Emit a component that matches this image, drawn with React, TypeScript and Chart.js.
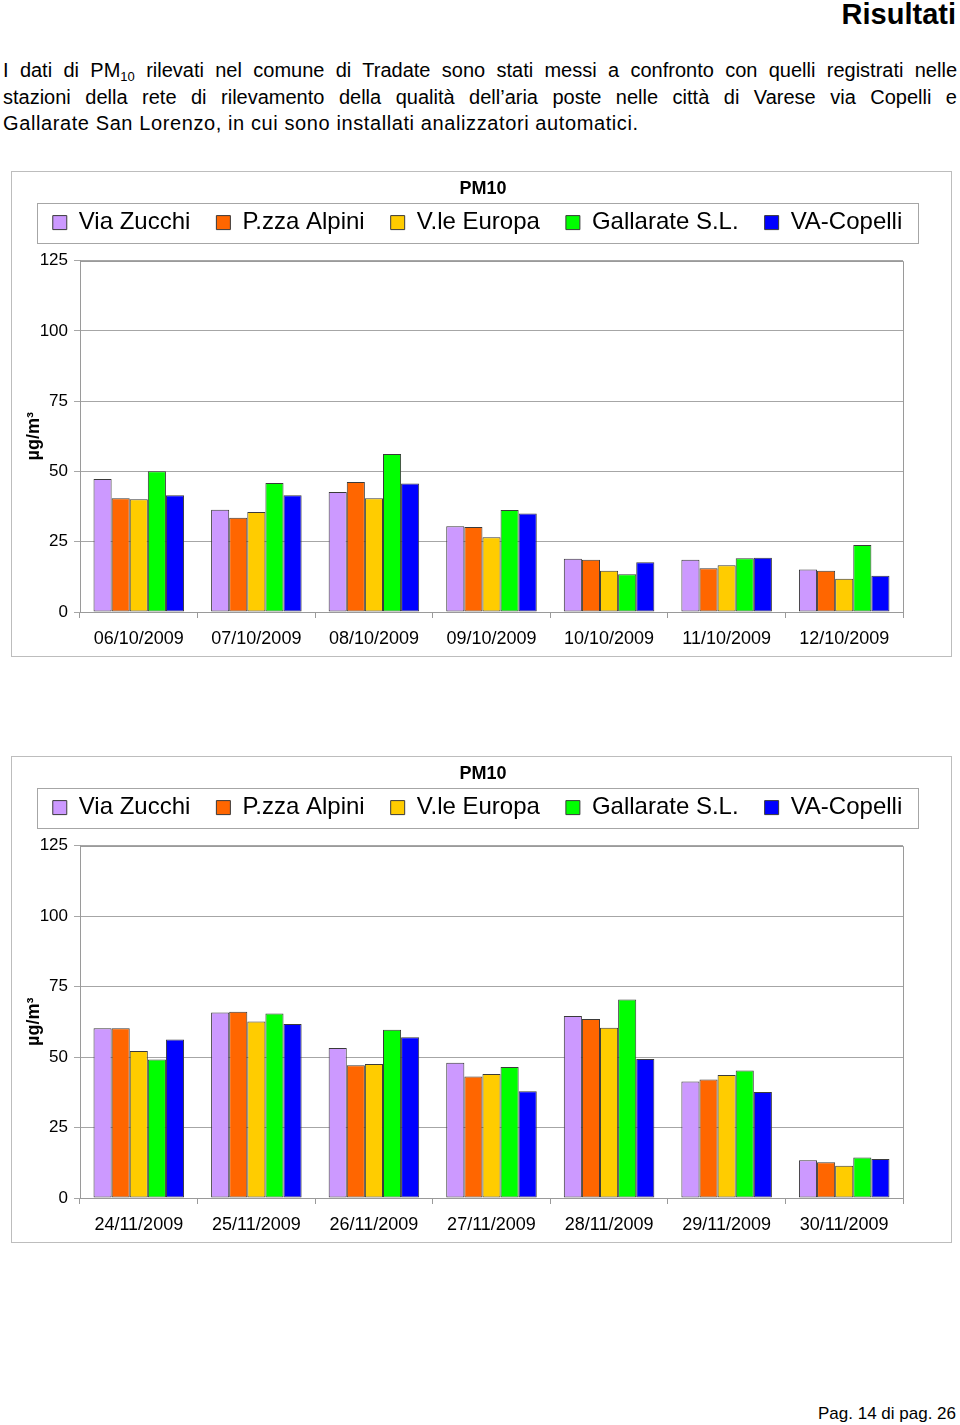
import React, { useEffect, useRef } from 'react';
import { Chart, registerables } from 'chart.js';

Chart.register(...registerables);

const FONT = "'Liberation Sans', Arial, Helvetica, sans-serif";

const SERIES_NAMES = ['Via Zucchi', 'P.zza Alpini', 'V.le Europa', 'Gallarate S.L.', 'VA-Copelli'];
const SERIES_COLORS = ['#CC99FF', '#FF6600', '#FFCC00', '#00FF00', '#0000FF'];
const Y_MIN = 0;
const Y_MAX = 125;
const Y_STEP = 25;
const CHART_TITLE = 'PM10';
const Y_TITLE = 'µg/m³';

// Chart 1 — October 2009
const OCT_DATES = ['06/10/2009', '07/10/2009', '08/10/2009', '09/10/2009', '10/10/2009', '11/10/2009', '12/10/2009'];
const OCT_VIA_ZUCCHI = [47.3, 36.4, 42.7, 30.5, 18.9, 18.6, 15.1];
const OCT_PZZA_ALPINI = [40.5, 33.5, 46.2, 30.2, 18.6, 15.6, 14.7];
const OCT_VLE_EUROPA = [40.1, 35.6, 40.5, 26.6, 14.7, 16.6, 11.8];
const OCT_GALLARATE = [50.1, 45.9, 56.2, 36.3, 13.4, 19.1, 23.8];
const OCT_VA_COPELLI = [41.5, 41.5, 45.7, 35.0, 17.7, 19.3, 12.9];

// Chart 2 — November 2009
const NOV_DATES = ['24/11/2009', '25/11/2009', '26/11/2009', '27/11/2009', '28/11/2009', '29/11/2009', '30/11/2009'];
const NOV_VIA_ZUCCHI = [60.2, 65.8, 53.2, 48.0, 64.6, 41.3, 13.4];
const NOV_PZZA_ALPINI = [60.2, 66.1, 47.1, 43.1, 63.5, 42.0, 12.7];
const NOV_VLE_EUROPA = [52.1, 62.6, 47.5, 44.0, 60.4, 43.6, 11.4];
const NOV_GALLARATE = [49.1, 65.4, 59.7, 46.5, 70.4, 45.2, 14.4];
const NOV_VA_COPELLI = [56.2, 61.7, 57.0, 37.9, 49.3, 37.6, 13.8];

const LEGEND_FRAME_LEFT = 26;
const LEGEND_FRAME_RIGHT = 907;

const framePlugin = {
  id: 'pmFrames',
  beforeInit(chart: any) {
    const lg = chart.legend;
    if (lg) {
      const orig = lg.fit;
      lg.fit = function () {
        this.maxWidth = Math.max(this.maxWidth || 0, 941);
        orig.call(this);
        this.height += 16;
      };
    }
  },
  afterLayout(chart: any) {
    const lg = chart.legend;
    if (lg) {
      lg.left = 0;
      lg.right = LEGEND_FRAME_LEFT + LEGEND_FRAME_RIGHT;
      lg.width = lg.right;
    }
    const tb = chart.titleBlock;
    if (tb) {
      tb.left = 0;
      tb.right = 944;
      tb.width = 944;
    }
  },
  afterDraw(chart: any) {
    const ctx = chart.ctx;
    ctx.save();
    ctx.strokeStyle = '#a6a6a6';
    ctx.lineWidth = 1;
    const lg = chart.legend;
    if (lg && lg.legendHitBoxes && lg.legendHitBoxes.length) {
      const hb = lg.legendHitBoxes[0];
      const top = Math.round(hb.top - 8) + 0.5;
      const h = Math.round(hb.height + 16);
      ctx.strokeRect(LEGEND_FRAME_LEFT + 0.5, top, LEGEND_FRAME_RIGHT - LEGEND_FRAME_LEFT, h);
    }
    const a = chart.chartArea;
    ctx.strokeStyle = '#9a9a9a';
    ctx.beginPath();
    ctx.moveTo(Math.round(a.left) + 0.5, Math.round(a.top) + 0.5);
    ctx.lineTo(Math.round(a.right) + 0.5, Math.round(a.top) + 0.5);
    ctx.lineTo(Math.round(a.right) + 0.5, Math.round(a.bottom) + 0.5);
    ctx.stroke();
    ctx.restore();
  },
};

type PMChartProps = {
  labels: string[];
  series: number[][];
  left: number;
  top: number;
  width: number;
  height: number;
};

function PMChart({ labels, series, left, top, width, height }: PMChartProps) {
  const ref = useRef<HTMLCanvasElement | null>(null);
  useEffect(() => {
    if (!ref.current) return;
    const chart = new Chart(ref.current, {
      type: 'bar',
      data: {
        labels,
        datasets: series.map((values, i) => ({
          label: SERIES_NAMES[i],
          data: values,
          backgroundColor: SERIES_COLORS[i],
          borderColor: '#3a3a3a',
          borderWidth: 1,
          borderSkipped: false,
          barPercentage: 1,
          categoryPercentage: 0.77,
        })),
      },
      options: {
        responsive: false,
        animation: false,
        devicePixelRatio: 1,
        color: '#000',
        layout: { padding: { left: 0, right: 49, top: 0, bottom: 0 } },
        plugins: {
          title: {
            display: true,
            text: CHART_TITLE,
            color: '#000',
            font: { family: FONT, size: 18, weight: 'bold' },
            padding: { top: 7, bottom: -15 },
          },
          legend: {
            display: true,
            position: 'top',
            labels: {
              color: '#000',
              font: { family: FONT, size: 24 },
              boxWidth: 14,
              boxHeight: 14,
              padding: 26,
            },
          },
          tooltip: { enabled: false },
        },
        scales: {
          x: {
            offset: true,
            grid: {
              offset: true,
              drawOnChartArea: false,
              drawTicks: true,
              tickLength: 6,
              color: '#9a9a9a',
            },
            border: { display: true, color: '#9a9a9a' },
            ticks: {
              color: '#000',
              font: { family: FONT, size: 18 },
              padding: 10,
              maxRotation: 0,
              autoSkip: false,
            },
            afterFit: (scale: any) => {
              scale.height = 45;
            },
          },
          y: {
            min: Y_MIN,
            max: Y_MAX,
            grid: {
              color: '#a6a6a6',
              drawTicks: true,
              tickLength: 6,
            },
            border: { display: true, color: '#9a9a9a' },
            ticks: {
              stepSize: Y_STEP,
              color: '#000',
              font: { family: FONT, size: 17 },
              padding: 6,
            },
            title: {
              display: true,
              text: Y_TITLE,
              color: '#000',
              font: { family: FONT, size: 18, weight: 'bold' },
              padding: { top: 12, bottom: 0 },
            },
            afterFit: (scale: any) => {
              scale.width = 69;
            },
          },
        },
      },
      plugins: [framePlugin],
    } as any);
    return () => chart.destroy();
  }, [labels, series]);

  return (
    <>
      <canvas
        ref={ref}
        width={width}
        height={height}
        style={{ position: 'absolute', left, top, width, height, background: '#fff' }}
      />
      <div
        style={{
          position: 'absolute',
          left,
          top,
          width,
          height,
          border: '1px solid #bdbdbd',
          boxSizing: 'border-box',
          pointerEvents: 'none',
        }}
      />
    </>
  );
}

const OCT_SERIES = [OCT_VIA_ZUCCHI, OCT_PZZA_ALPINI, OCT_VLE_EUROPA, OCT_GALLARATE, OCT_VA_COPELLI];
const NOV_SERIES = [NOV_VIA_ZUCCHI, NOV_PZZA_ALPINI, NOV_VLE_EUROPA, NOV_GALLARATE, NOV_VA_COPELLI];

const lineStyle: React.CSSProperties = {
  position: 'absolute',
  left: 3,
  width: 954,
  fontFamily: FONT,
  fontSize: 20,
  lineHeight: '26px',
  letterSpacing: '0.6px',
  whiteSpace: 'nowrap',
  color: '#000',
};

export default function App() {
  return (
    <div
      style={{
        position: 'relative',
        width: 960,
        height: 1425,
        overflow: 'hidden',
        background: '#fff',
        fontFamily: FONT,
      }}
    >
      <style>{'html,body{margin:0;padding:0;background:#fff;}'}</style>
      <div
        style={{
          position: 'absolute',
          right: 4,
          top: 0,
          fontSize: 29,
          fontWeight: 'bold',
          lineHeight: '29px',
          color: '#000',
        }}
      >
        Risultati
      </div>

      <div style={{ ...lineStyle, top: 57, textAlign: 'justify', textAlignLast: 'justify', whiteSpace: 'normal', letterSpacing: 'normal' }}>
        I dati di PM<span style={{ fontSize: 13, position: 'relative', top: 4 }}>10</span> rilevati nel comune di Tradate sono stati messi a confronto con quelli registrati nelle
      </div>
      <div style={{ ...lineStyle, top: 83.5, textAlign: 'justify', textAlignLast: 'justify', whiteSpace: 'normal', letterSpacing: 'normal' }}>
        stazioni della rete di rilevamento della qualità dell’aria poste nelle città di Varese via Copelli e
      </div>
      <div style={{ ...lineStyle, top: 110 }}>
        Gallarate San Lorenzo, in cui sono installati analizzatori automatici.
      </div>

      <PMChart labels={OCT_DATES} series={OCT_SERIES} left={11} top={171} width={941} height={486} />
      <PMChart labels={NOV_DATES} series={NOV_SERIES} left={11} top={756} width={941} height={487} />

      <div
        style={{
          position: 'absolute',
          right: 4,
          top: 1404,
          fontSize: 17,
          lineHeight: '20px',
          color: '#000',
        }}
      >
        Pag. 14 di pag. 26
      </div>
    </div>
  );
}
